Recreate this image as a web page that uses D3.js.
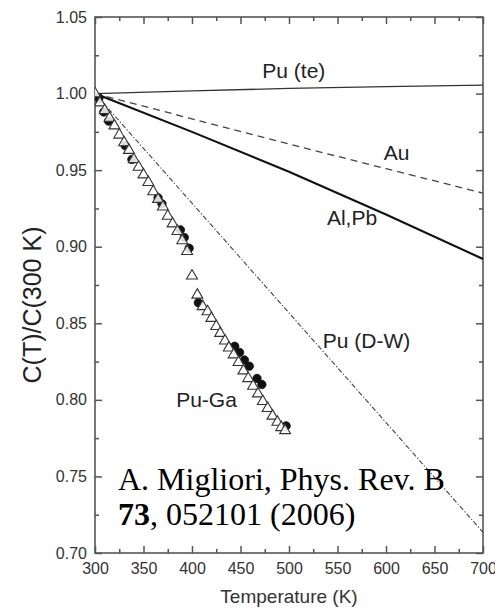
<!DOCTYPE html>
<html>
<head>
<meta charset="utf-8">
<script src="https://cdn.jsdelivr.net/npm/d3@7"></script>
<style>
html,body{margin:0;padding:0;background:#fff;}
svg{display:block;}
</style>
</head>
<body>
<svg id="chart" width="495" height="609"></svg>
<script>
// ---- data ----
const xTicks = [300, 350, 400, 450, 500, 550, 600, 650, 700];
const yTicks = [0.70, 0.75, 0.80, 0.85, 0.90, 0.95, 1.00, 1.05];

const curveT = [300, 400, 500, 600, 700];
const puTe  = [1.000, 1.0017, 1.0034, 1.0045, 1.0055];
const au    = [1.000, 0.9835, 0.967, 0.951, 0.935];
const alPb  = [1.000, 0.975, 0.949, 0.921, 0.892];
const puDW  = [1.000, 0.9284, 0.8568, 0.7852, 0.7135];

const triT = [300, 305, 310, 315, 320, 325, 330, 335, 340, 345, 350, 355, 360, 365, 370, 375, 380, 385, 390, 395,
              400, 405.5, 411, 416, 420, 425, 429, 434, 438, 443, 448, 453, 458, 463, 468, 473, 478, 483, 488, 492, 496];
const triV = [1.000, 0.994, 0.989, 0.984, 0.979, 0.973, 0.968, 0.963, 0.957, 0.952, 0.947, 0.942, 0.936, 0.931, 0.926, 0.920, 0.915, 0.910, 0.904, 0.897,
              0.881, 0.8685, 0.861, 0.8576, 0.8533, 0.848, 0.8435, 0.8385, 0.834, 0.8295, 0.8245, 0.819, 0.814, 0.809, 0.804, 0.799, 0.7945, 0.7895, 0.7855, 0.782, 0.780];

const circT = [303, 308, 313, 330, 337, 364, 368, 387, 391, 396, 405.5, 443, 448, 453, 458, 466, 471, 496];
const circV = [0.997, 0.988, 0.982, 0.966, 0.957, 0.932, 0.928, 0.911, 0.906, 0.899, 0.8634, 0.835, 0.831, 0.826, 0.822, 0.814, 0.810, 0.783];

const labels = [
  {text: "Pu (te)",  T: 505, v: 1.0102},
  {text: "Au",       T: 611, v: 0.9566},
  {text: "Al,Pb",    T: 565, v: 0.9142},
  {text: "Pu (D-W)", T: 580, v: 0.8339},
  {text: "Pu-Ga",    T: 415, v: 0.7953}
];

// ---- layout ----
const svg = d3.select("#chart");
const m = {left: 95, right: 483, top: 17, bottom: 553};
const x = d3.scaleLinear().domain([300, 700]).range([m.left, m.right]);
const y = d3.scaleLinear().domain([0.70, 1.05]).range([m.bottom, m.top]);
const frameColor = "#555";
const textColor = "#333";

// axes (ticks inward)
const minorX = d3.range(325, 700, 50);
const minorY = d3.range(0.725, 1.05, 0.05);

function styleAxis(g) {
  g.select(".domain").remove();
  g.selectAll("line").attr("stroke", frameColor).attr("stroke-width", 1.5);
}

svg.append("g").attr("transform", `translate(0,${m.bottom})`)
  .call(d3.axisBottom(x).tickValues(xTicks).tickSize(-7).tickPadding(10).tickFormat(d3.format("d")))
  .call(styleAxis)
  .call(g => g.selectAll("text").attr("font-family", "Liberation Sans, Arial, sans-serif").attr("font-size", 16).attr("fill", textColor));
svg.append("g").attr("transform", `translate(0,${m.bottom})`)
  .call(d3.axisBottom(x).tickValues(minorX).tickSize(-4).tickFormat(""))
  .call(styleAxis);
svg.append("g").attr("transform", `translate(0,${m.top})`)
  .call(d3.axisTop(x).tickValues(xTicks).tickSize(-7).tickFormat(""))
  .call(styleAxis);
svg.append("g").attr("transform", `translate(0,${m.top})`)
  .call(d3.axisTop(x).tickValues(minorX).tickSize(-4).tickFormat(""))
  .call(styleAxis);

svg.append("g").attr("transform", `translate(${m.left},0)`)
  .call(d3.axisLeft(y).tickValues(yTicks).tickSize(-7).tickPadding(8).tickFormat(d3.format(".2f")))
  .call(styleAxis)
  .call(g => g.selectAll("text").attr("font-family", "Liberation Sans, Arial, sans-serif").attr("font-size", 16).attr("fill", textColor));
svg.append("g").attr("transform", `translate(${m.left},0)`)
  .call(d3.axisLeft(y).tickValues(minorY).tickSize(-4).tickFormat(""))
  .call(styleAxis);
svg.append("g").attr("transform", `translate(${m.right},0)`)
  .call(d3.axisRight(y).tickValues(yTicks).tickSize(-7).tickFormat(""))
  .call(styleAxis);
svg.append("g").attr("transform", `translate(${m.right},0)`)
  .call(d3.axisRight(y).tickValues(minorY).tickSize(-4).tickFormat(""))
  .call(styleAxis);

// frame
svg.append("rect")
  .attr("x", m.left).attr("y", m.top)
  .attr("width", m.right - m.left).attr("height", m.bottom - m.top)
  .attr("fill", "none").attr("stroke", frameColor).attr("stroke-width", 1.6);

// axis titles
svg.append("text")
  .attr("x", (m.left + m.right) / 2).attr("y", 603)
  .attr("text-anchor", "middle")
  .attr("font-family", "Liberation Sans, Arial, sans-serif").attr("font-size", 19)
  .attr("fill", textColor)
  .text("Temperature (K)");
svg.append("text")
  .attr("transform", "translate(41,305) rotate(-90)")
  .attr("text-anchor", "middle")
  .attr("font-family", "Liberation Sans, Arial, sans-serif").attr("font-size", 25)
  .attr("fill", "#222")
  .text("C(T)/C(300 K)");

// curves
const clip = svg.append("clipPath").attr("id", "clip").append("rect")
  .attr("x", m.left).attr("y", m.top).attr("width", m.right - m.left).attr("height", m.bottom - m.top);
const plot = svg.append("g").attr("clip-path", "url(#clip)");
const line = d3.line().x(d => x(d[0])).y(d => y(d[1]));
const zip = (a, b) => a.map((t, i) => [t, b[i]]);

plot.append("path").datum(zip(curveT, puTe)).attr("d", line)
  .attr("fill", "none").attr("stroke", "#333").attr("stroke-width", 1.3);
plot.append("path").datum(zip(curveT, au)).attr("d", line)
  .attr("fill", "none").attr("stroke", "#444").attr("stroke-width", 1.3).attr("stroke-dasharray", "7,5");
plot.append("path").datum(zip(curveT, alPb)).attr("d", line)
  .attr("fill", "none").attr("stroke", "#111").attr("stroke-width", 2.1);
plot.append("path").datum(zip(curveT, puDW)).attr("d", line)
  .attr("fill", "none").attr("stroke", "#444").attr("stroke-width", 1.1).attr("stroke-dasharray", "5,2,1.2,2");

// markers: filled circles, then open triangles
plot.selectAll("circle.c").data(zip(circT, circV)).join("circle")
  .attr("cx", d => x(d[0]) + 1).attr("cy", d => y(d[1]))
  .attr("r", 4.2).attr("fill", "#111").attr("stroke", "#111").attr("stroke-width", 0.8);

const tri = d3.symbol().type(d3.symbolTriangle).size(52);
plot.selectAll("path.t").data(zip(triT, triV)).join("path")
  .attr("transform", d => `translate(${x(d[0])},${y(d[1])})`)
  .attr("d", tri)
  .attr("fill", "#fff").attr("fill-opacity", 0.85).attr("stroke", "#333").attr("stroke-width", 1.1);

// curve labels
svg.selectAll("text.lbl").data(labels).join("text")
  .attr("x", d => x(d.T)).attr("y", d => y(d.v))
  .attr("text-anchor", "middle")
  .attr("font-family", "Liberation Sans, Arial, sans-serif").attr("font-size", 21)
  .attr("fill", "#222")
  .text(d => d.text);

// citation
const cit = svg.append("text")
  .attr("font-family", "Liberation Serif, 'Times New Roman', serif").attr("font-size", 32)
  .attr("fill", "#000");
cit.append("tspan").attr("x", 118).attr("y", 490).text("A. Migliori, Phys. Rev. B");
cit.append("tspan").attr("x", 118).attr("y", 525).attr("font-weight", "bold").text("73");
cit.append("tspan").text(", 052101 (2006)");
</script>
</body>
</html>
